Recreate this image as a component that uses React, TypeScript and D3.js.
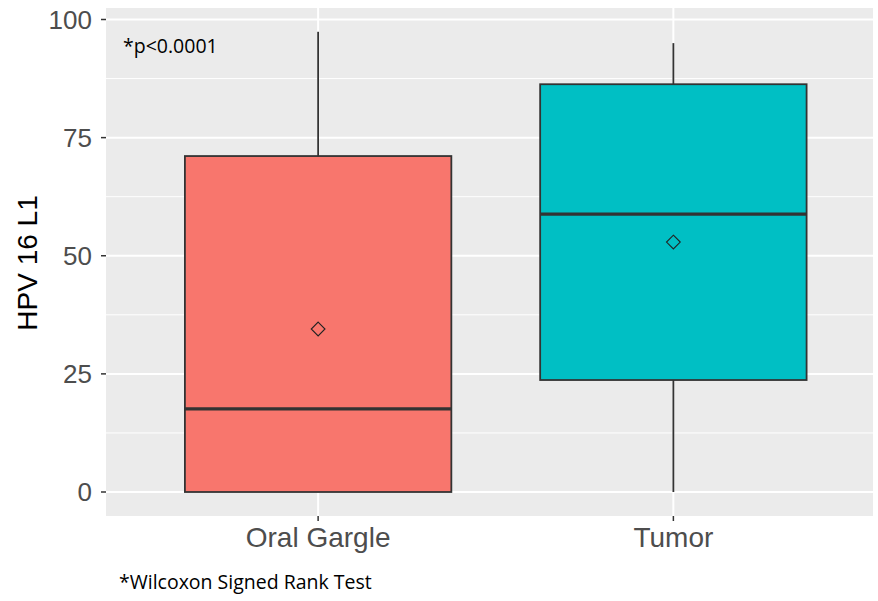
import React from "react";
import * as d3 from "d3";

const categories = ["Oral Gargle", "Tumor"];
const whiskerLow = [0, 0];
const q1 = [0, 23.7];
const median = [17.6, 58.8];
const q3 = [71.1, 86.3];
const whiskerHigh = [97.4, 95];
const means = [34.5, 52.9];
const fills = ["#F8766D", "#00BFC4"];
const yTicks = [0, 25, 50, 75, 100];
const yMinor = [12.5, 37.5, 62.5, 87.5];

const W = 878, H = 601;
const panel = { left: 106, right: 873, top: 8, bottom: 516 };

export default function App() {
  const y = d3.scaleLinear().domain([0, 100]).range([492, 19.5]);
  const x = d3
    .scaleBand<string>()
    .domain(categories)
    .range([140.5, 851])
    .paddingInner(0)
    .paddingOuter(0);
  const bw = x.bandwidth();
  const boxW = bw * 0.75;
  const cx = (c: string) => (x(c) as number) + bw / 2;
  const diamond = d3.symbol().type(d3.symbolDiamond2 ?? d3.symbolDiamond).size(120);

  return (
    <svg width={W} height={H} style={{ display: "block", position: "absolute", left: 0, top: 0 }}>
      <rect x={0} y={0} width={W} height={H} fill="#fff" />
      <rect
        x={panel.left}
        y={panel.top}
        width={panel.right - panel.left}
        height={panel.bottom - panel.top}
        fill="#EBEBEB"
      />
      {yMinor.map((v) => (
        <line key={"mn" + v} x1={panel.left} x2={panel.right} y1={y(v)} y2={y(v)} stroke="#fff" strokeWidth={1} />
      ))}
      {yTicks.map((v) => (
        <line key={"mj" + v} x1={panel.left} x2={panel.right} y1={y(v)} y2={y(v)} stroke="#fff" strokeWidth={2} />
      ))}
      {categories.map((c) => (
        <line key={"vx" + c} x1={cx(c)} x2={cx(c)} y1={panel.top} y2={panel.bottom} stroke="#fff" strokeWidth={2} />
      ))}
      {categories.map((c, i) => {
        const m = cx(c);
        return (
          <g key={c}>
            <line x1={m} x2={m} y1={y(whiskerHigh[i])} y2={y(q3[i])} stroke="#333" strokeWidth={1.8} />
            <line x1={m} x2={m} y1={y(q1[i])} y2={y(whiskerLow[i])} stroke="#333" strokeWidth={1.8} />
            <rect
              x={m - boxW / 2}
              y={y(q3[i])}
              width={boxW}
              height={y(q1[i]) - y(q3[i])}
              fill={fills[i]}
              stroke="#333"
              strokeWidth={1.8}
            />
            <line x1={m - boxW / 2} x2={m + boxW / 2} y1={y(median[i])} y2={y(median[i])} stroke="#333" strokeWidth={3.4} />
            <path
              d={diamond() as string}
              transform={`translate(${m},${y(means[i])})`}
              fill="none"
              stroke="#222"
              strokeWidth={1.1}
            />
          </g>
        );
      })}
      {yTicks.map((v) => (
        <g key={"t" + v}>
          <line x1={101} x2={106} y1={y(v)} y2={y(v)} stroke="#333" strokeWidth={1.5} />
          <text
            x={92}
            y={y(v)}
            dy="0.36em"
            textAnchor="end"
            fontFamily="Liberation Sans, Arial, sans-serif"
            fontSize={26}
            fill="#4D4D4D"
          >
            {v}
          </text>
        </g>
      ))}
      {categories.map((c) => (
        <g key={"xt" + c}>
          <line x1={cx(c)} x2={cx(c)} y1={516} y2={521} stroke="#333" strokeWidth={1.5} />
          <text
            x={cx(c)}
            y={547}
            textAnchor="middle"
            fontFamily="Liberation Sans, Arial, sans-serif"
            fontSize={28}
            fill="#4D4D4D"
          >
            {c}
          </text>
        </g>
      ))}
      <text
        transform={`translate(37,263) rotate(-90)`}
        textAnchor="middle"
        fontFamily="Liberation Sans, Arial, sans-serif"
        fontSize={28}
        fill="#000"
      >
        HPV 16 L1
      </text>
      <text x={123} y={53} fontFamily="Open Sans, sans-serif" fontSize={19.5} fill="#000">
        *p&lt;0.0001
      </text>
      <text x={119} y={589} fontFamily="Open Sans, sans-serif" fontSize={19.5} fill="#000">
        *Wilcoxon Signed Rank Test
      </text>
    </svg>
  );
}
